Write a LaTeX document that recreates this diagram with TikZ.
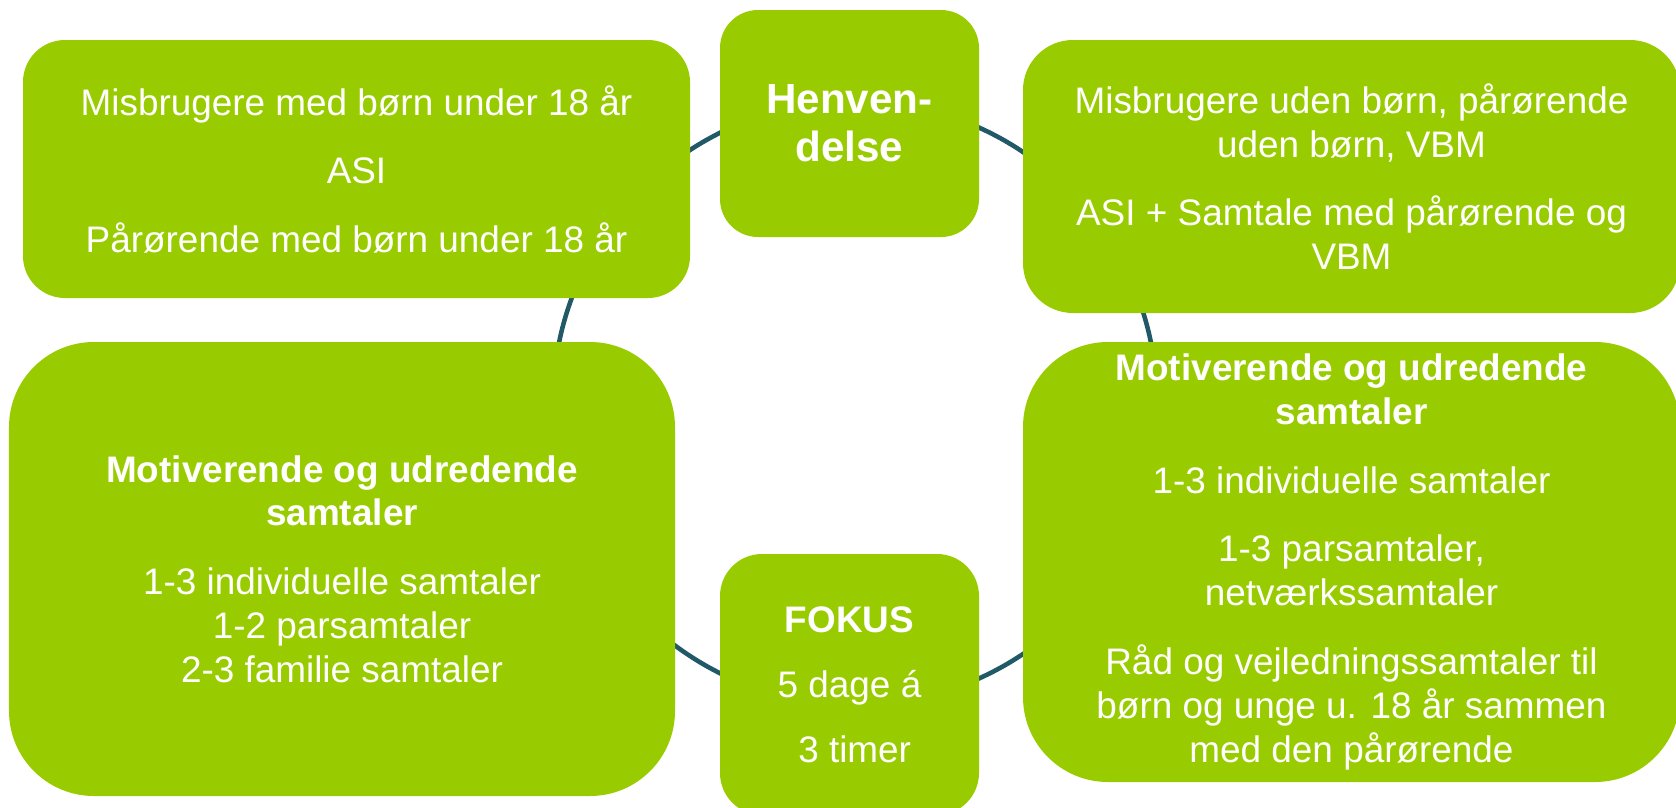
\documentclass[tikz,border=0pt]{standalone}
\usepackage{fontspec}
\setmainfont{Liberation Sans}
\usetikzlibrary{positioning}
\definecolor{boxgreen}{RGB}{153,204,0}
\definecolor{ringblue}{RGB}{33,89,104}
\tikzstyle{box} = [rectangle, fill=boxgreen, text=white, align=center, font=\fontsize{10.5}{12.5}\selectfont, inner sep=0pt, rounded corners=0.42cm]
\tikzstyle{bigbox} = [box, rounded corners=0.85cm]
\tikzstyle{ring} = [draw=ringblue, line width=1.3pt]
\begin{document}
\begin{tikzpicture}
\useasboundingbox (0,0) rectangle (16.76,8.07);

% Ring behind the boxes
\coordinate (hub) at (8.55,4.04);
\draw[ring] (hub) circle (3.02);

% Nodes (Boxes)
\node[box, minimum width=6.67cm, minimum height=2.58cm] (withkids) at (3.565,6.38) {Misbrugere med børn under 18 år\\[7pt] ASI\\[7pt] Pårørende med børn under 18 år};
\node[box, minimum width=2.59cm, minimum height=2.27cm, rounded corners=0.38cm, font=\fontsize{12}{13.7}\selectfont\bfseries] (referral) at (8.495,6.835) {Henven-\\delse};
\node[box, minimum width=6.57cm, minimum height=2.73cm, rounded corners=0.5cm] (nokids) at (13.515,6.305) {Misbrugere uden børn, pårørende\\uden børn, VBM\\[7pt] ASI + Samtale med pårørende og\\VBM};
\node[bigbox, minimum width=6.66cm, minimum height=4.54cm] (talksleft) at (3.42,2.38) {\textbf{Motiverende og udredende}\\\textbf{samtaler}\\[7pt] 1-3 individuelle samtaler\\1-2 parsamtaler\\2-3 familie samtaler};
\node[box, minimum width=2.59cm, minimum height=2.61cm] (focus) at (8.495,1.225) {\textbf{FOKUS}\\[6pt] 5 dage á\\[6pt] \hspace*{0.28em}3 timer};
\node[bigbox, minimum width=6.57cm, minimum height=4.40cm] (talksright) at (13.515,2.45) {\textbf{Motiverende og udredende}\\\textbf{samtaler}\\[7pt] 1-3 individuelle samtaler\\[7pt] 1-3 parsamtaler,\\netværkssamtaler\\[7pt] Råd og vejledningssamtaler til\\børn og unge u. 18 år sammen\\med den pårørende};

\end{tikzpicture}
\end{document}
